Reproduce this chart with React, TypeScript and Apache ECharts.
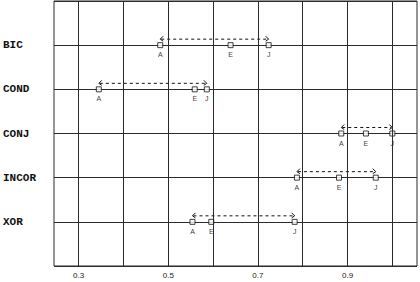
import React, { useEffect, useRef } from "react";
import * as echarts from "echarts";

const categories = ["BIC", "COND", "CONJ", "INCOR", "XOR"];
const valuesA = [0.482, 0.345, 0.886, 0.787, 0.554];
const valuesE = [0.639, 0.559, 0.941, 0.881, 0.596];
const valuesJ = [0.724, 0.586, 1.0, 0.963, 0.782];
const xTickLabels = [0.3, 0.5, 0.7, 0.9];
const xGridValues = [0.3, 0.4, 0.5, 0.6, 0.7, 0.8, 0.9, 1.0];

export default function App() {
  const ref = useRef<HTMLDivElement>(null);
  useEffect(() => {
    document.body.style.margin = "0";
    if (!ref.current) return;
    const chart = echarts.init(ref.current, null, { renderer: "svg" });
    const n = categories.length;
    const yOf = (i: number) => n - i;
    const pts = (vals: number[], tag: string) =>
      vals.map((v, i) => ({ value: [v, yOf(i)], name: tag }));
    const lineColor = "#2a2a2a";
    chart.setOption({
      animation: false,
      backgroundColor: "#fff",
      grid: {
        left: 54,
        right: 3,
        top: 1,
        bottom: 16,
        show: true,
        borderColor: lineColor,
        borderWidth: 1,
        backgroundColor: "transparent",
      },
      xAxis: {
        type: "value",
        min: 0.245,
        max: 1.055,
        axisLine: { show: false },
        axisTick: { show: false },
        splitLine: { show: false },
        axisLabel: {
          customValues: xTickLabels,
          margin: 5,
          fontFamily: "Liberation Sans",
          fontSize: 8,
          color: "#222",
          formatter: (v: number) => v.toFixed(1),
        },
      },
      yAxis: {
        type: "value",
        min: 0,
        max: n + 1,
        interval: 1,
        axisLine: { show: false },
        axisTick: { show: false },
        splitLine: { show: true, lineStyle: { color: lineColor, width: 1 } },
        axisLabel: {
          align: "left",
          margin: 51,
          fontFamily: "Liberation Mono",
          fontWeight: "bold",
          fontSize: 11,
          color: "#111",
          formatter: (v: number) => {
            const idx = n - Math.round(v);
            return idx >= 0 && idx < n && v >= 1 ? categories[idx] : "";
          },
        },
      },
      series: [
        {
          type: "custom",
          silent: true,
          z: 3,
          data: categories.map((c, i) => [valuesA[i], valuesJ[i], yOf(i)]),
          encode: { x: [0, 1], y: 2 },
          renderItem: (params: any, api: any) => {
            const s = api.coord([api.value(0), api.value(2)]);
            const e = api.coord([api.value(1), api.value(2)]);
            const y = s[1] - 6;
            const st = { stroke: "#111", lineWidth: 1, fill: null };
            return {
              type: "group",
              children: [
                {
                  type: "line",
                  shape: { x1: s[0] + 1, y1: y, x2: e[0] - 1, y2: y },
                  style: { stroke: "#111", lineWidth: 1, lineDash: [3, 3] },
                },
                {
                  type: "polyline",
                  shape: { points: [[s[0] + 3, y - 3], [s[0], y], [s[0] + 3, y + 2]] },
                  style: st,
                },
                {
                  type: "polyline",
                  shape: { points: [[e[0] - 3, y - 3], [e[0], y], [e[0] - 3, y + 2]] },
                  style: st,
                },
              ],
            };
          },
        },
        {
          type: "scatter",
          silent: true,
          z: 4,
          symbol: "rect",
          symbolSize: 5,
          itemStyle: { color: "#fff", borderColor: "#111", borderWidth: 1 },
          label: {
            show: true,
            position: "bottom",
            distance: 3,
            fontFamily: "Liberation Sans",
            fontSize: 7,
            color: "#000",
            formatter: (p: any) => p.name,
          },
          data: [...pts(valuesA, "A"), ...pts(valuesE, "E"), ...pts(valuesJ, "J")],
          markLine: {
            silent: true,
            symbol: "none",
            label: { show: false },
            lineStyle: { color: lineColor, width: 1, type: "solid" },
            data: xGridValues.map((v) => ({ xAxis: v })),
          },
        },
      ],
    });
    return () => chart.dispose();
  }, []);
  return <div ref={ref} style={{ width: 420, height: 282 }} />;
}
